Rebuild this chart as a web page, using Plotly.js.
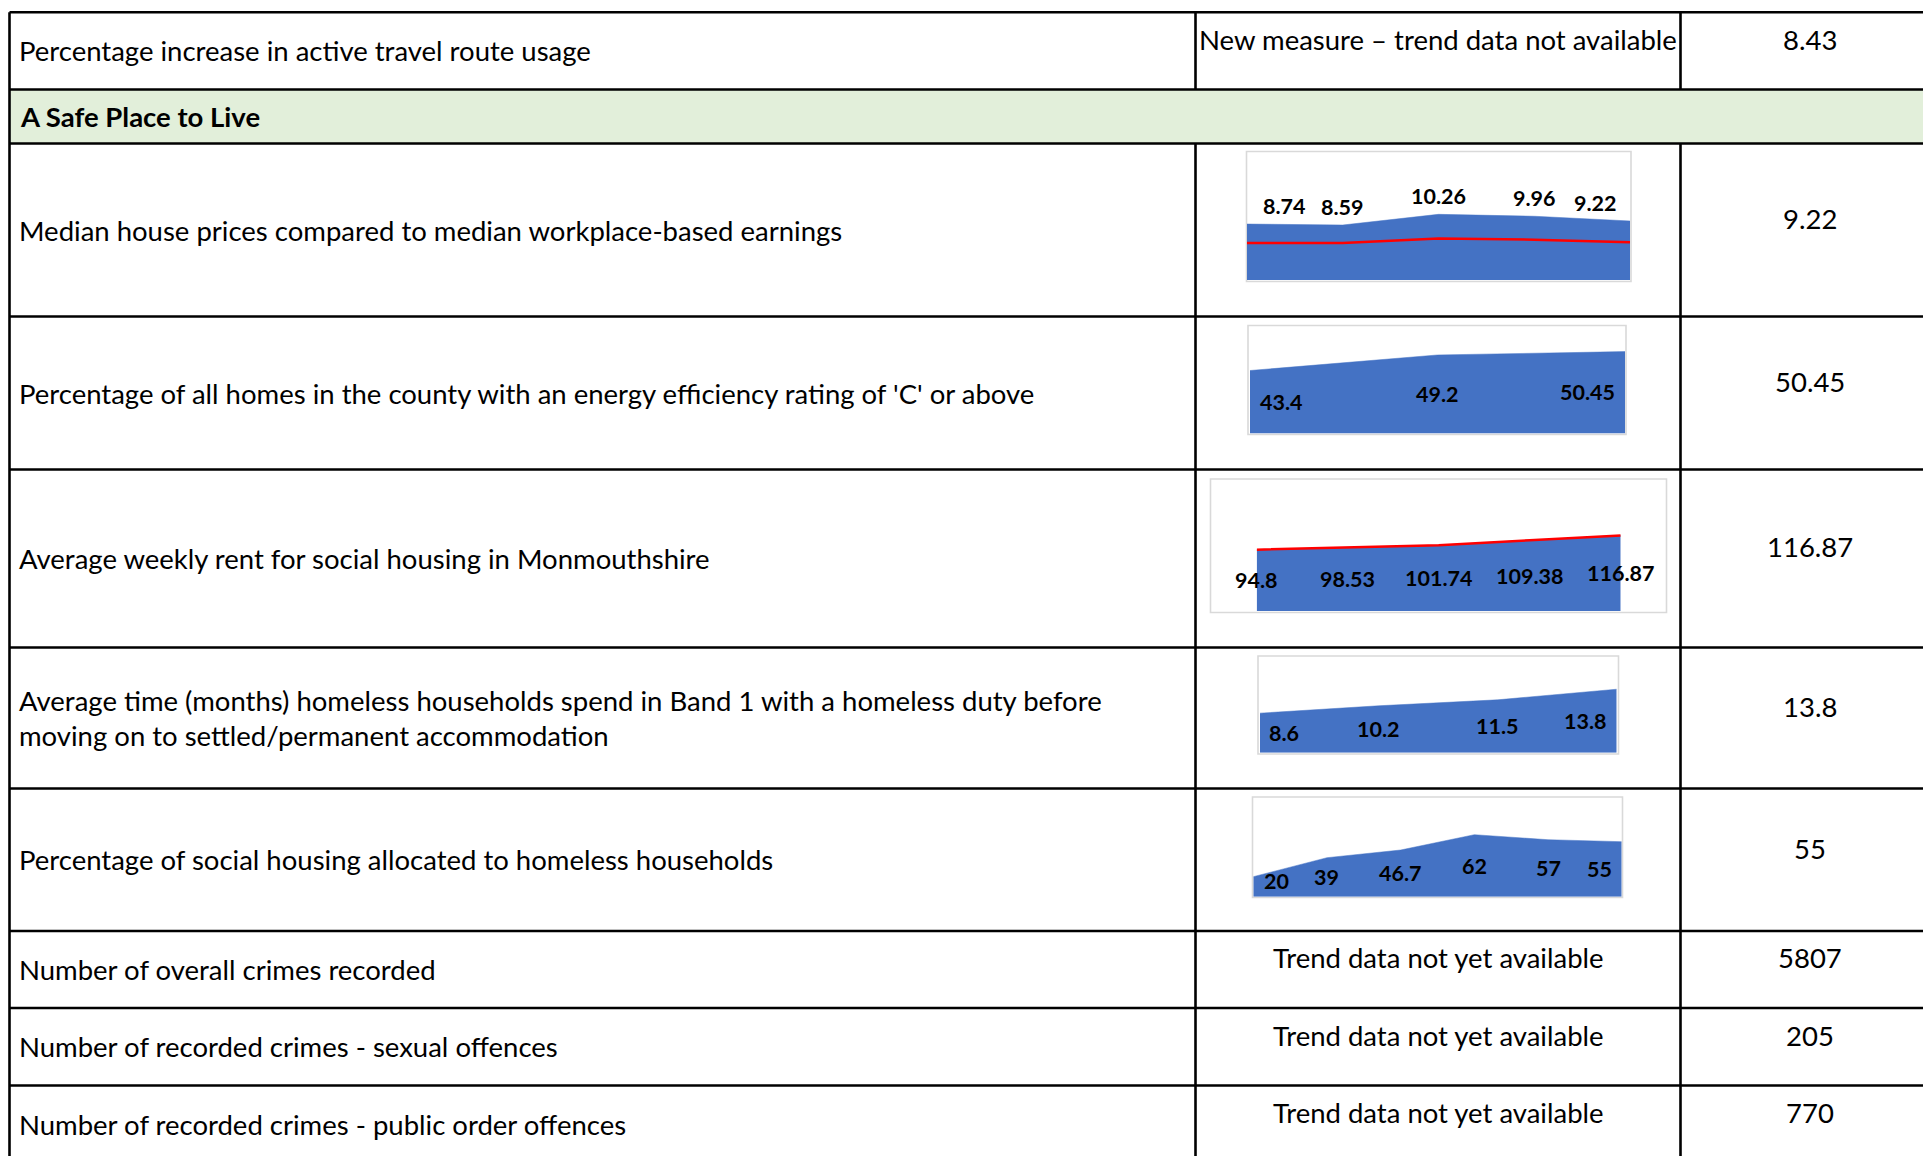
<!DOCTYPE html>
<html>
<head>
<meta charset="utf-8">
<script src="https://cdn.plot.ly/plotly-3.0.1.min.js"></script>
<style>
  html, body { margin: 0; padding: 0; background: #ffffff; }
  #chart { width: 1923px; height: 1156px; }
</style>
</head>
<body>
<div id="chart"></div>
<script>
// ---------------- DATA ----------------
const sectionTitle = "A Safe Place to Live";
const indicatorLabels = [
  "Percentage increase in active travel route usage",
  "Median house prices compared to median workplace-based earnings",
  "Percentage of all homes in the county with an energy efficiency rating of 'C' or above",
  "Average weekly rent for social housing in Monmouthshire",
  "Average time (months) homeless households spend in Band 1 with a homeless duty before\nmoving on to settled/permanent accommodation",
  "Percentage of social housing allocated to homeless households",
  "Number of overall crimes recorded",
  "Number of recorded crimes - sexual offences",
  "Number of recorded crimes - public order offences"
];
const trendNotes = [
  "New measure – trend data not available", "", "", "", "", "",
  "Trend data not yet available",
  "Trend data not yet available",
  "Trend data not yet available"
];
const latestValues = ["8.43", "9.22", "50.45", "116.87", "13.8", "55", "5807", "205", "770"];

// Sparkline series
const houseRatio      = [8.74, 8.59, 10.26, 9.96, 9.22];
const houseRatioLine  = [5.8, 5.8, 6.5, 6.3, 5.9];
const energyRatingC   = [43.4, 49.2, 50.45];
const socialRent      = [94.8, 98.53, 101.74, 109.38, 116.87];
const band1Months     = [8.6, 10.2, 11.5, 13.8];
const homelessAlloc   = [20, 39, 46.7, 62, 57, 55];

// ---------------- LAYOUT GEOMETRY (pixels) ----------------
const W = 1923, H = 1156;
const X = px => px / W;
const Y = py => 1 - py / H;

const FONT = "Lato, 'Open Sans', sans-serif";
const BODY_SIZE = 27.5;
const LABEL_SIZE = 21.5;
const LEFT = 9.5, COL1 = 1195.5, COL2 = 1680.5;
const rowBounds = [
  [12.3, 89.5], [143.5, 316.5], [316.5, 469.5], [469.5, 647.5], [647.5, 788.5],
  [788.5, 931], [931, 1008], [1008, 1085.5], [1085.5, 1163]
];
const greenBand = [89.5, 143.5];
const lineYs = [12.3, 89.5, 143.5, 316.5, 469.5, 647.5, 788.5, 931, 1008, 1085.5];

const shapes = [];
const annotations = [];

// green section band
shapes.push({type: 'rect', xref: 'paper', yref: 'paper', layer: 'below',
  x0: X(LEFT), x1: X(W + 5), y0: Y(greenBand[1]), y1: Y(greenBand[0]),
  fillcolor: '#E2EFDA', line: {width: 0}});

// horizontal lines
lineYs.forEach(y => shapes.push({type: 'line', xref: 'paper', yref: 'paper',
  x0: X(LEFT), x1: X(W + 5), y0: Y(y), y1: Y(y), line: {color: '#000000', width: 2.6}}));
// vertical lines
shapes.push({type: 'line', xref: 'paper', yref: 'paper', x0: X(LEFT), x1: X(LEFT),
  y0: Y(12.3), y1: Y(H + 5), line: {color: '#000000', width: 2.6}});
[COL1, COL2].forEach(x => {
  shapes.push({type: 'line', xref: 'paper', yref: 'paper', x0: X(x), x1: X(x),
    y0: Y(12.3), y1: Y(89.5), line: {color: '#000000', width: 2.6}});
  shapes.push({type: 'line', xref: 'paper', yref: 'paper', x0: X(x), x1: X(x),
    y0: Y(143.5), y1: Y(H + 5), line: {color: '#000000', width: 2.6}});
});

// section title
annotations.push({xref: 'paper', yref: 'paper', x: X(18), y: Y((greenBand[0] + greenBand[1]) / 2),
  xanchor: 'left', yanchor: 'middle', showarrow: false, text: sectionTitle,
  font: {family: FONT, size: BODY_SIZE, color: '#000000', weight: 700}});

// table text
indicatorLabels.forEach((lab, i) => {
  const [t, b] = rowBounds[i];
  const mid = (t + b) / 2;
  const lines = lab.split("\n");
  const lh = 35.5;
  lines.forEach((ln, k) => {
    const yy = mid + (k - (lines.length - 1) / 2) * lh;
    annotations.push({xref: 'paper', yref: 'paper', x: X(17), y: Y(yy),
      xanchor: 'left', yanchor: 'middle', showarrow: false, text: ln,
      font: {family: FONT, size: BODY_SIZE, color: '#000000'}});
  });
  if (trendNotes[i]) {
    annotations.push({xref: 'paper', yref: 'paper', x: X((COL1 + COL2) / 2), y: Y(mid - 11.7),
      xanchor: 'center', yanchor: 'middle', showarrow: false, text: trendNotes[i],
      font: {family: FONT, size: BODY_SIZE, color: '#000000'}});
  }
  annotations.push({xref: 'paper', yref: 'paper', x: X(1810), y: Y(mid - 11.7),
    xanchor: 'center', yanchor: 'middle', showarrow: false, text: latestValues[i],
    font: {family: FONT, size: BODY_SIZE, color: '#000000'}});
});

// ---------------- SPARKLINES ----------------
const sparks = [
  {vals: houseRatio, line: houseRatioLine, range: [0, 20], plot: [1247, 1630, 152, 280],
   border: [1246.5, 1631, 151.5, 281.5], labelMode: 'above', edge: [14, 11]},
  {vals: energyRatingC, line: null, range: [20, 60], plot: [1250, 1625, 326, 433.3],
   border: [1248, 1626, 325.5, 434.5], labelMode: 'mid', edge: [8, 8]},
  {vals: socialRent, line: socialRent, range: [0, 200], plot: [1256.7, 1620.7, 481.6, 611],
   border: [1210.5, 1666.5, 479, 612.5], labelMode: 'mid', edge: null},
  {vals: band1Months, line: null, range: [0, 20], plot: [1260, 1616.7, 660.7, 752.7],
   border: [1258, 1618.5, 656, 754], labelMode: 'mid', edge: [7, 8]},
  {vals: homelessAlloc, line: null, range: [0, 100], plot: [1253.3, 1621.7, 796.7, 896.7],
   border: [1252.5, 1622.5, 797, 897.5], labelMode: 'mid', edge: [9, 8]}
];

const traces = [];
const layout = {
  width: W, height: H,
  margin: {l: 0, r: 0, t: 0, b: 0, pad: 0},
  paper_bgcolor: '#ffffff', plot_bgcolor: 'rgba(0,0,0,0)',
  showlegend: false,
  font: {family: FONT},
  shapes: shapes, annotations: annotations
};

sparks.forEach((s, idx) => {
  const n = idx + 1;
  const xa = 'x' + n, ya = 'y' + n;
  const xs = s.vals.map((_, i) => i);
  const [l, r, t, b] = s.plot;
  layout['xaxis' + n] = {domain: [X(l), X(r)], range: [0, s.vals.length - 1], visible: false,
    fixedrange: true, anchor: ya};
  layout['yaxis' + n] = {domain: [Y(b), Y(t)], range: s.range, visible: false,
    fixedrange: true, anchor: xa};
  // chart border
  const [bl, br, bt, bb] = s.border;
  shapes.push({type: 'rect', xref: 'paper', yref: 'paper', layer: 'below',
    x0: X(bl), x1: X(br), y0: Y(bb), y1: Y(bt),
    fillcolor: '#ffffff', line: {color: '#D9D9D9', width: 1.6}});
  traces.push({type: 'scatter', x: xs, y: s.vals, xaxis: xa, yaxis: ya,
    mode: 'lines', fill: 'tozeroy', fillcolor: '#4472C4',
    line: {width: 0.5, color: '#4472C4'}, hoverinfo: 'skip'});
  if (s.line) {
    traces.push({type: 'scatter', x: xs, y: s.line, xaxis: xa, yaxis: ya,
      mode: 'lines', line: {width: 2.5, color: '#FF0000'}, hoverinfo: 'skip'});
  }
  const plotH = b - t;
  s.vals.forEach((v, i) => {
    const last = s.vals.length - 1;
    let xanchor = 'center', xshift = 0;
    if (s.edge && i === 0) { xanchor = 'left'; xshift = s.edge[0]; }
    if (s.edge && i === last) { xanchor = 'right'; xshift = -s.edge[1]; }
    const yv = s.labelMode === 'above' ? v : (v + s.range[0]) / 2;
    let yshift = s.labelMode === 'above' ? 18 : 0;
    // keep labels inside the plot area (as the spreadsheet does)
    const pxAbove = plotH * (yv - s.range[0]) / (s.range[1] - s.range[0]);
    if (s.labelMode === 'mid' && pxAbove < 16) yshift = 16 - pxAbove;
    annotations.push({xref: xa, yref: ya, x: i, y: yv, xanchor: xanchor, xshift: xshift,
      yanchor: 'middle', yshift: yshift,
      showarrow: false, text: String(v),
      font: {family: FONT, size: LABEL_SIZE, color: '#000000', weight: 700}});
  });
});

Plotly.newPlot('chart', traces, layout, {displayModeBar: false, staticPlot: true});
</script>
</body>
</html>
